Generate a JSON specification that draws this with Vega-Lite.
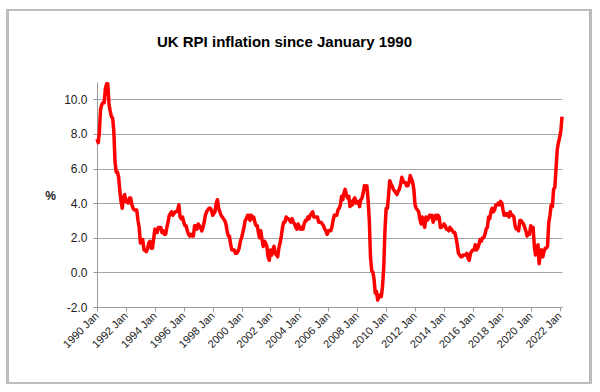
{
  "$schema": "https://vega.github.io/schema/vega-lite/v6.json",
  "width": 465,
  "height": 225,
  "autosize": {"type": "none"},
  "padding": {"left": 97, "top": 82, "right": 38, "bottom": 85},
  "background": "white",
  "config": {
    "view": {"stroke": null},
    "font": "Liberation Sans"
  },
  "title": {
    "text": "UK RPI inflation since January 1990",
    "font": "Liberation Sans",
    "fontSize": 15,
    "fontWeight": "bold",
    "color": "#000000",
    "anchor": "middle",
    "frame": "group",
    "dx": -45,
    "baseline": "alphabetic",
    "offset": -53
  },
  "data": {
    "values": [
      {"d":"1990-01","v":7.7},{"d":"1990-02","v":7.5},{"d":"1990-03","v":8.1},{"d":"1990-04","v":9.4},{"d":"1990-05","v":9.7},{"d":"1990-06","v":9.8},{"d":"1990-07","v":9.8},{"d":"1990-08","v":10.6},{"d":"1990-09","v":10.9},{"d":"1990-10","v":10.9},{"d":"1990-11","v":9.7},{"d":"1990-12","v":9.3},
      {"d":"1991-01","v":9.0},{"d":"1991-02","v":8.9},{"d":"1991-03","v":8.2},{"d":"1991-04","v":6.4},{"d":"1991-05","v":5.8},{"d":"1991-06","v":5.8},{"d":"1991-07","v":5.5},{"d":"1991-08","v":4.7},{"d":"1991-09","v":4.1},{"d":"1991-10","v":3.7},{"d":"1991-11","v":4.3},{"d":"1991-12","v":4.5},
      {"d":"1992-01","v":4.1},{"d":"1992-02","v":4.1},{"d":"1992-03","v":4.0},{"d":"1992-04","v":4.3},{"d":"1992-05","v":4.3},{"d":"1992-06","v":3.9},{"d":"1992-07","v":3.7},{"d":"1992-08","v":3.6},{"d":"1992-09","v":3.6},{"d":"1992-10","v":3.6},{"d":"1992-11","v":3.0},{"d":"1992-12","v":2.6},
      {"d":"1993-01","v":1.7},{"d":"1993-02","v":1.8},{"d":"1993-03","v":1.9},{"d":"1993-04","v":1.3},{"d":"1993-05","v":1.3},{"d":"1993-06","v":1.2},{"d":"1993-07","v":1.4},{"d":"1993-08","v":1.7},{"d":"1993-09","v":1.8},{"d":"1993-10","v":1.4},{"d":"1993-11","v":1.4},{"d":"1993-12","v":1.9},
      {"d":"1994-01","v":2.5},{"d":"1994-02","v":2.4},{"d":"1994-03","v":2.3},{"d":"1994-04","v":2.6},{"d":"1994-05","v":2.6},{"d":"1994-06","v":2.6},{"d":"1994-07","v":2.3},{"d":"1994-08","v":2.4},{"d":"1994-09","v":2.2},{"d":"1994-10","v":2.2},{"d":"1994-11","v":2.6},{"d":"1994-12","v":2.9},
      {"d":"1995-01","v":3.3},{"d":"1995-02","v":3.4},{"d":"1995-03","v":3.5},{"d":"1995-04","v":3.3},{"d":"1995-05","v":3.4},{"d":"1995-06","v":3.5},{"d":"1995-07","v":3.5},{"d":"1995-08","v":3.6},{"d":"1995-09","v":3.9},{"d":"1995-10","v":3.2},{"d":"1995-11","v":3.1},{"d":"1995-12","v":3.2},
      {"d":"1996-01","v":2.9},{"d":"1996-02","v":2.7},{"d":"1996-03","v":2.7},{"d":"1996-04","v":2.4},{"d":"1996-05","v":2.2},{"d":"1996-06","v":2.1},{"d":"1996-07","v":2.2},{"d":"1996-08","v":2.1},{"d":"1996-09","v":2.1},{"d":"1996-10","v":2.7},{"d":"1996-11","v":2.7},{"d":"1996-12","v":2.5},
      {"d":"1997-01","v":2.8},{"d":"1997-02","v":2.7},{"d":"1997-03","v":2.6},{"d":"1997-04","v":2.4},{"d":"1997-05","v":2.6},{"d":"1997-06","v":2.9},{"d":"1997-07","v":3.3},{"d":"1997-08","v":3.5},{"d":"1997-09","v":3.6},{"d":"1997-10","v":3.7},{"d":"1997-11","v":3.7},{"d":"1997-12","v":3.6},
      {"d":"1998-01","v":3.3},{"d":"1998-02","v":3.4},{"d":"1998-03","v":3.5},{"d":"1998-04","v":4.0},{"d":"1998-05","v":4.2},{"d":"1998-06","v":3.7},{"d":"1998-07","v":3.5},{"d":"1998-08","v":3.3},{"d":"1998-09","v":3.2},{"d":"1998-10","v":3.1},{"d":"1998-11","v":3.0},{"d":"1998-12","v":2.8},
      {"d":"1999-01","v":2.4},{"d":"1999-02","v":2.1},{"d":"1999-03","v":2.1},{"d":"1999-04","v":1.6},{"d":"1999-05","v":1.3},{"d":"1999-06","v":1.3},{"d":"1999-07","v":1.3},{"d":"1999-08","v":1.1},{"d":"1999-09","v":1.1},{"d":"1999-10","v":1.2},{"d":"1999-11","v":1.4},{"d":"1999-12","v":1.8},
      {"d":"2000-01","v":2.0},{"d":"2000-02","v":2.3},{"d":"2000-03","v":2.6},{"d":"2000-04","v":3.0},{"d":"2000-05","v":3.1},{"d":"2000-06","v":3.3},{"d":"2000-07","v":3.3},{"d":"2000-08","v":3.0},{"d":"2000-09","v":3.3},{"d":"2000-10","v":3.1},{"d":"2000-11","v":3.2},{"d":"2000-12","v":2.9},
      {"d":"2001-01","v":2.7},{"d":"2001-02","v":2.7},{"d":"2001-03","v":2.3},{"d":"2001-04","v":2.0},{"d":"2001-05","v":2.4},{"d":"2001-06","v":1.9},{"d":"2001-07","v":1.5},{"d":"2001-08","v":1.8},{"d":"2001-09","v":1.7},{"d":"2001-10","v":1.5},{"d":"2001-11","v":0.9},{"d":"2001-12","v":0.7},
      {"d":"2002-01","v":1.3},{"d":"2002-02","v":1.0},{"d":"2002-03","v":1.3},{"d":"2002-04","v":1.5},{"d":"2002-05","v":1.1},{"d":"2002-06","v":1.0},{"d":"2002-07","v":0.9},{"d":"2002-08","v":1.4},{"d":"2002-09","v":1.7},{"d":"2002-10","v":2.1},{"d":"2002-11","v":2.6},{"d":"2002-12","v":2.9},
      {"d":"2003-01","v":2.9},{"d":"2003-02","v":3.2},{"d":"2003-03","v":3.1},{"d":"2003-04","v":3.1},{"d":"2003-05","v":3.0},{"d":"2003-06","v":2.9},{"d":"2003-07","v":3.1},{"d":"2003-08","v":2.9},{"d":"2003-09","v":2.8},{"d":"2003-10","v":2.6},{"d":"2003-11","v":2.5},{"d":"2003-12","v":2.8},
      {"d":"2004-01","v":2.6},{"d":"2004-02","v":2.5},{"d":"2004-03","v":2.6},{"d":"2004-04","v":2.5},{"d":"2004-05","v":2.8},{"d":"2004-06","v":3.0},{"d":"2004-07","v":3.0},{"d":"2004-08","v":3.2},{"d":"2004-09","v":3.1},{"d":"2004-10","v":3.3},{"d":"2004-11","v":3.4},{"d":"2004-12","v":3.5},
      {"d":"2005-01","v":3.2},{"d":"2005-02","v":3.2},{"d":"2005-03","v":3.2},{"d":"2005-04","v":3.2},{"d":"2005-05","v":2.9},{"d":"2005-06","v":2.9},{"d":"2005-07","v":2.9},{"d":"2005-08","v":2.8},{"d":"2005-09","v":2.7},{"d":"2005-10","v":2.5},{"d":"2005-11","v":2.4},{"d":"2005-12","v":2.2},
      {"d":"2006-01","v":2.4},{"d":"2006-02","v":2.4},{"d":"2006-03","v":2.4},{"d":"2006-04","v":2.6},{"d":"2006-05","v":3.0},{"d":"2006-06","v":3.3},{"d":"2006-07","v":3.3},{"d":"2006-08","v":3.3},{"d":"2006-09","v":3.6},{"d":"2006-10","v":3.7},{"d":"2006-11","v":3.9},{"d":"2006-12","v":4.4},
      {"d":"2007-01","v":4.2},{"d":"2007-02","v":4.6},{"d":"2007-03","v":4.8},{"d":"2007-04","v":4.5},{"d":"2007-05","v":4.3},{"d":"2007-06","v":4.4},{"d":"2007-07","v":3.8},{"d":"2007-08","v":4.1},{"d":"2007-09","v":3.9},{"d":"2007-10","v":4.2},{"d":"2007-11","v":4.3},{"d":"2007-12","v":4.0},
      {"d":"2008-01","v":4.1},{"d":"2008-02","v":4.1},{"d":"2008-03","v":3.8},{"d":"2008-04","v":4.2},{"d":"2008-05","v":4.3},{"d":"2008-06","v":4.6},{"d":"2008-07","v":5.0},{"d":"2008-08","v":4.8},{"d":"2008-09","v":5.0},{"d":"2008-10","v":4.2},{"d":"2008-11","v":3.0},{"d":"2008-12","v":0.9},
      {"d":"2009-01","v":0.1},{"d":"2009-02","v":0.0},{"d":"2009-03","v":-0.4},{"d":"2009-04","v":-1.2},{"d":"2009-05","v":-1.1},{"d":"2009-06","v":-1.6},{"d":"2009-07","v":-1.4},{"d":"2009-08","v":-1.3},{"d":"2009-09","v":-1.4},{"d":"2009-10","v":-0.8},{"d":"2009-11","v":0.3},{"d":"2009-12","v":2.4},
      {"d":"2010-01","v":3.7},{"d":"2010-02","v":3.7},{"d":"2010-03","v":4.4},{"d":"2010-04","v":5.3},{"d":"2010-05","v":5.1},{"d":"2010-06","v":5.0},{"d":"2010-07","v":4.8},{"d":"2010-08","v":4.7},{"d":"2010-09","v":4.6},{"d":"2010-10","v":4.5},{"d":"2010-11","v":4.7},{"d":"2010-12","v":4.8},
      {"d":"2011-01","v":5.1},{"d":"2011-02","v":5.5},{"d":"2011-03","v":5.3},{"d":"2011-04","v":5.2},{"d":"2011-05","v":5.2},{"d":"2011-06","v":5.0},{"d":"2011-07","v":5.0},{"d":"2011-08","v":5.2},{"d":"2011-09","v":5.6},{"d":"2011-10","v":5.4},{"d":"2011-11","v":5.2},{"d":"2011-12","v":4.8},
      {"d":"2012-01","v":3.9},{"d":"2012-02","v":3.7},{"d":"2012-03","v":3.6},{"d":"2012-04","v":3.5},{"d":"2012-05","v":3.1},{"d":"2012-06","v":2.8},{"d":"2012-07","v":3.2},{"d":"2012-08","v":2.9},{"d":"2012-09","v":2.6},{"d":"2012-10","v":3.2},{"d":"2012-11","v":3.0},{"d":"2012-12","v":3.1},
      {"d":"2013-01","v":3.3},{"d":"2013-02","v":3.2},{"d":"2013-03","v":3.3},{"d":"2013-04","v":2.9},{"d":"2013-05","v":3.1},{"d":"2013-06","v":3.3},{"d":"2013-07","v":3.1},{"d":"2013-08","v":3.3},{"d":"2013-09","v":3.2},{"d":"2013-10","v":2.6},{"d":"2013-11","v":2.6},{"d":"2013-12","v":2.7},
      {"d":"2014-01","v":2.8},{"d":"2014-02","v":2.7},{"d":"2014-03","v":2.5},{"d":"2014-04","v":2.5},{"d":"2014-05","v":2.4},{"d":"2014-06","v":2.6},{"d":"2014-07","v":2.5},{"d":"2014-08","v":2.4},{"d":"2014-09","v":2.3},{"d":"2014-10","v":2.3},{"d":"2014-11","v":2.0},{"d":"2014-12","v":1.6},
      {"d":"2015-01","v":1.1},{"d":"2015-02","v":1.0},{"d":"2015-03","v":0.9},{"d":"2015-04","v":0.9},{"d":"2015-05","v":1.0},{"d":"2015-06","v":1.0},{"d":"2015-07","v":1.0},{"d":"2015-08","v":1.1},{"d":"2015-09","v":0.8},{"d":"2015-10","v":0.7},{"d":"2015-11","v":1.1},{"d":"2015-12","v":1.2},
      {"d":"2016-01","v":1.3},{"d":"2016-02","v":1.3},{"d":"2016-03","v":1.6},{"d":"2016-04","v":1.3},{"d":"2016-05","v":1.4},{"d":"2016-06","v":1.6},{"d":"2016-07","v":1.9},{"d":"2016-08","v":1.8},{"d":"2016-09","v":2.0},{"d":"2016-10","v":2.0},{"d":"2016-11","v":2.2},{"d":"2016-12","v":2.5},
      {"d":"2017-01","v":2.6},{"d":"2017-02","v":3.2},{"d":"2017-03","v":3.1},{"d":"2017-04","v":3.5},{"d":"2017-05","v":3.7},{"d":"2017-06","v":3.5},{"d":"2017-07","v":3.6},{"d":"2017-08","v":3.9},{"d":"2017-09","v":3.9},{"d":"2017-10","v":4.0},{"d":"2017-11","v":3.9},{"d":"2017-12","v":4.1},
      {"d":"2018-01","v":4.0},{"d":"2018-02","v":3.6},{"d":"2018-03","v":3.3},{"d":"2018-04","v":3.4},{"d":"2018-05","v":3.3},{"d":"2018-06","v":3.4},{"d":"2018-07","v":3.2},{"d":"2018-08","v":3.5},{"d":"2018-09","v":3.3},{"d":"2018-10","v":3.3},{"d":"2018-11","v":3.2},{"d":"2018-12","v":2.7},
      {"d":"2019-01","v":2.5},{"d":"2019-02","v":2.5},{"d":"2019-03","v":2.4},{"d":"2019-04","v":3.0},{"d":"2019-05","v":3.0},{"d":"2019-06","v":2.9},{"d":"2019-07","v":2.8},{"d":"2019-08","v":2.6},{"d":"2019-09","v":2.4},{"d":"2019-10","v":2.1},{"d":"2019-11","v":2.2},{"d":"2019-12","v":2.2},
      {"d":"2020-01","v":2.7},{"d":"2020-02","v":2.5},{"d":"2020-03","v":2.6},{"d":"2020-04","v":1.5},{"d":"2020-05","v":1.0},{"d":"2020-06","v":1.1},{"d":"2020-07","v":1.6},{"d":"2020-08","v":0.5},{"d":"2020-09","v":1.1},{"d":"2020-10","v":1.3},{"d":"2020-11","v":0.9},{"d":"2020-12","v":1.2},
      {"d":"2021-01","v":1.4},{"d":"2021-02","v":1.4},{"d":"2021-03","v":1.5},{"d":"2021-04","v":2.9},{"d":"2021-05","v":3.3},{"d":"2021-06","v":3.9},{"d":"2021-07","v":3.8},{"d":"2021-08","v":4.8},{"d":"2021-09","v":4.9},{"d":"2021-10","v":6.0},{"d":"2021-11","v":7.1},{"d":"2021-12","v":7.5},
      {"d":"2022-01","v":7.8},{"d":"2022-02","v":8.2},{"d":"2022-03","v":9.0}
    ],
    "format": {"parse": {"d": "date:'%Y-%m'"}}
  },
  "layer": [
    {
      "mark": {"type": "line", "color": "#ff0000", "strokeWidth": 3.5, "strokeJoin": "round"},
      "encoding": {
        "x": {
          "field": "d",
          "type": "temporal",
          "scale": {"domain": [{"year": 1990, "month": 1, "date": 1}, {"year": 2022, "month": 3, "date": 1}]},
          "axis": {
            "title": null,
            "format": "%Y Jan",
            "tickCount": {"interval": "year", "step": 2},
            "labelAngle": -45,
            "labelAlign": "right",
            "labelBaseline": "middle",
            "labelPadding": 3,
            "labelFont": "Liberation Sans",
            "labelFontSize": 11,
            "labelColor": "#222222",
            "labelOverlap": false,
            "labelFlush": false,
            "grid": false,
            "domainColor": "#999999",
            "tickColor": "#999999",
            "tickSize": 4
          }
        },
        "y": {
          "field": "v",
          "type": "quantitative",
          "scale": {"domain": [-2, 11], "nice": false},
          "axis": {
            "title": "%",
            "titleAngle": 0,
            "titleX": -47,
            "titleY": 113,
            "titleAlign": "center",
            "titleBaseline": "middle",
            "titleFont": "Liberation Sans",
            "titleFontSize": 12,
            "titleFontWeight": "bold",
            "titleColor": "#222222",
            "values": [-2, 0, 2, 4, 6, 8, 10],
            "tickCount": 20,
            "labelExpr": "replace(format(datum.value, '.1f'), '\u2212', '-')",
            "labelFont": "Liberation Sans",
            "labelFontSize": 12,
            "labelColor": "#222222",
            "labelPadding": 6,
            "labelOverlap": false,
            "grid": true,
            "gridColor": "#a6a6a6",
            "gridWidth": 1,
            "domainColor": "#999999",
            "tickColor": "#999999",
            "tickSize": 4
          }
        }
      }
    },
    {
      "mark": {"type": "rect", "filled": false, "stroke": "#bdbdbd", "strokeWidth": 2},
      "encoding": {
        "x": {"datum": {"year": 1983, "month": 10, "date": 22}, "type": "temporal"},
        "x2": {"datum": {"year": 2024, "month": 3, "date": 2}},
        "y": {"datum": 15.16, "type": "quantitative"},
        "y2": {"datum": -6.39}
      }
    }
  ]
}
